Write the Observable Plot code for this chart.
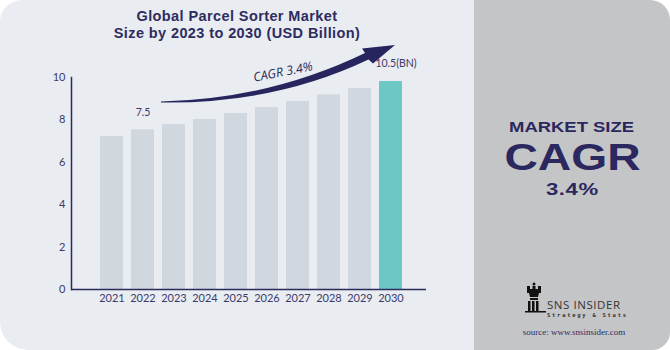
<!DOCTYPE html>
<html>
<head>
<meta charset="utf-8">
<script src="https://cdn.jsdelivr.net/npm/d3@7"></script>
<script src="https://cdn.jsdelivr.net/npm/@observablehq/plot@0.6"></script>
<style>
  html, body { margin: 0; padding: 0; background: #ffffff; }
  #wrap { position: relative; width: 670px; height: 350px; overflow: hidden; font-family: "Open Sans", sans-serif; }
  #left { position: absolute; left: 0; top: 0; width: 474px; height: 350px; background: #e9ecf1; border-radius: 22px 0 0 28px; }
  #right { position: absolute; left: 474px; top: 0; width: 196px; height: 350px; background: #c4c5c7; border-radius: 0 20px 18px 0; }
  .tl { position: absolute; left: 0; width: 474px; text-align: center; color: #2e2c60; font-family: "Liberation Sans", Arial, sans-serif; font-weight: 700; font-size: 14.5px; line-height: 17px; height: 17px; white-space: nowrap; letter-spacing: 0.4px; }
  #chart { position: absolute; left: 0; top: 0; }
  #deco { position: absolute; left: 0; top: 0; }
  .rt { position: absolute; left: 474px; width: 196px; text-align: center; white-space: nowrap; }
  .rt span { display: inline-block; color: #2b2860; font-family: "Liberation Sans", Arial, sans-serif; font-weight: 700; transform-origin: 50% 50%; }
</style>
</head>
<body>
<div id="wrap">
  <div id="left"></div>
  <div id="right"></div>
  <div class="tl" style="top:8px;">Global Parcel Sorter Market</div>
  <div class="tl" style="top:25px;">Size by 2023 to 2030 (USD Billion)</div>
  <div id="chart"></div>
  <svg id="deco" width="670" height="350"></svg>
  <div class="rt" style="top:115px;"><span style="font-size:15.5px;line-height:18px;transform:scaleX(1.19);">MARKET SIZE</span></div>
  <div class="rt" style="top:138px;"><span style="font-size:37px;line-height:40px;transform:scaleX(1.25);">CAGR</span></div>
  <div class="rt" style="top:178px;"><span style="font-size:17px;line-height:18px;letter-spacing:0.5px;transform:scaleX(1.3);">3.4%</span></div>
</div>
<script>
const years = ["2021","2022","2023","2024","2025","2026","2027","2028","2029","2030"];
const values = [7.22, 7.53, 7.78, 8.02, 8.30, 8.58, 8.87, 9.18, 9.48, 9.81];
const barLabels = ["", "7.5", "", "", "", "", "", "", "", "10.5(BN)"];
const yTicks = [0, 2, 4, 6, 8, 10];
const cagrText = "CAGR 3.4%";

const data = years.map((y, i) => ({year: y, value: values[i], label: barLabels[i], last: i === years.length - 1}));
const navy = "#2b2a5c";

const plot = Plot.plot({
  width: 474,
  height: 350,
  marginLeft: 71,
  marginRight: 48,
  marginTop: 77,
  marginBottom: 61,
  style: {background: "transparent", fontFamily: "Lato, sans-serif", fontSize: "10.5px", color: "#3b3a6b"},
  x: {domain: years, range: [93.5, 409.1], paddingInner: 0.27, paddingOuter: 0.135, label: null},
  y: {domain: [0, 10], label: null},
  marks: [
    Plot.barY(data, {x: "year", y: "value", fill: d => d.last ? "#6cc8c4" : "#d0d7de"}),
    Plot.text(data.filter(d => d.label && !d.last), {x: "year", y: "value", text: "label", dy: -17, fill: "#3b3a6b", fontSize: 10.5}),
    Plot.text(data.filter(d => d.label && d.last), {x: "year", y: "value", text: "label", dy: -18, dx: 5, fill: "#3b3a6b", fontSize: 10.5}),
    Plot.axisY({ticks: yTicks, tickSize: 0, tickPadding: 6, fill: "#3b3a6b", fontSize: 11}),
    Plot.axisX({tickSize: 0, tickPadding: 5, fill: "#3b3a6b", fontSize: 11}),
    Plot.ruleY([0], {stroke: navy, strokeWidth: 1.5}),
    Plot.frame({anchor: "left", stroke: navy, strokeWidth: 1.5})
  ]
});
document.getElementById("chart").appendChild(plot);

// decorative arrow, CAGR text, logo
const deco = d3.select("#deco");
deco.append("path")
  .attr("d", "M161,101.5 Q270,99 365,53 L362,48.5 L395,45 L373,63.5 L368.5,59.5 Q275,104 161,102.5 Z")
  .attr("fill", "#27255e");
deco.append("text")
  .attr("x", 283).attr("y", 76)
  .attr("transform", "rotate(-11 283 72)")
  .attr("text-anchor", "middle")
  .attr("font-family", "Open Sans, sans-serif")
  .attr("font-style", "italic")
  .attr("font-weight", 500)
  .attr("font-size", 12.5)
  .attr("fill", "#2b2a5c")
  .text(cagrText);

// logo (rook icon)
const g = deco.append("g").attr("fill", "#111");
g.append("rect").attr("x", 527).attr("y", 289).attr("width", 14).attr("height", 4);
g.append("rect").attr("x", 527).attr("y", 286).attr("width", 3).attr("height", 4);
g.append("rect").attr("x", 532.5).attr("y", 286).attr("width", 3).attr("height", 4);
g.append("rect").attr("x", 538).attr("y", 286).attr("width", 3).attr("height", 4);
g.append("circle").attr("cx", 534).attr("cy", 284).attr("r", 1.5);
g.append("path").attr("d", "M529,293 L539,293 L538,297 L530,297 Z");
g.append("rect").attr("x", 530).attr("y", 298).attr("width", 8).attr("height", 2);
g.append("rect").attr("x", 528).attr("y", 301).attr("width", 2.5).attr("height", 11);
g.append("rect").attr("x", 532).attr("y", 301).attr("width", 2.5).attr("height", 11);
g.append("rect").attr("x", 536).attr("y", 301).attr("width", 2.5).attr("height", 11);
g.append("rect").attr("x", 525).attr("y", 311).attr("width", 21).attr("height", 1.5);
deco.append("text").attr("x", 547).attr("y", 308.5)
  .attr("font-family", "Open Sans, sans-serif").attr("font-size", 11.5).attr("fill", "#333")
  .attr("textLength", 73).text("SNS INSIDER");
deco.append("text").attr("x", 547).attr("y", 317)
  .attr("font-family", "DejaVu Sans Mono, monospace").attr("font-size", 5.5).attr("font-weight", "bold").attr("fill", "#333")
  .attr("textLength", 79).text("Strategy & Stats");
deco.append("text").attr("x", 574).attr("y", 334.5).attr("text-anchor", "middle")
  .attr("font-family", "Liberation Serif, serif").attr("font-size", 9).attr("fill", "#2e2d63")
  .text("source: www.snsinsider.com");
</script>
</body>
</html>
